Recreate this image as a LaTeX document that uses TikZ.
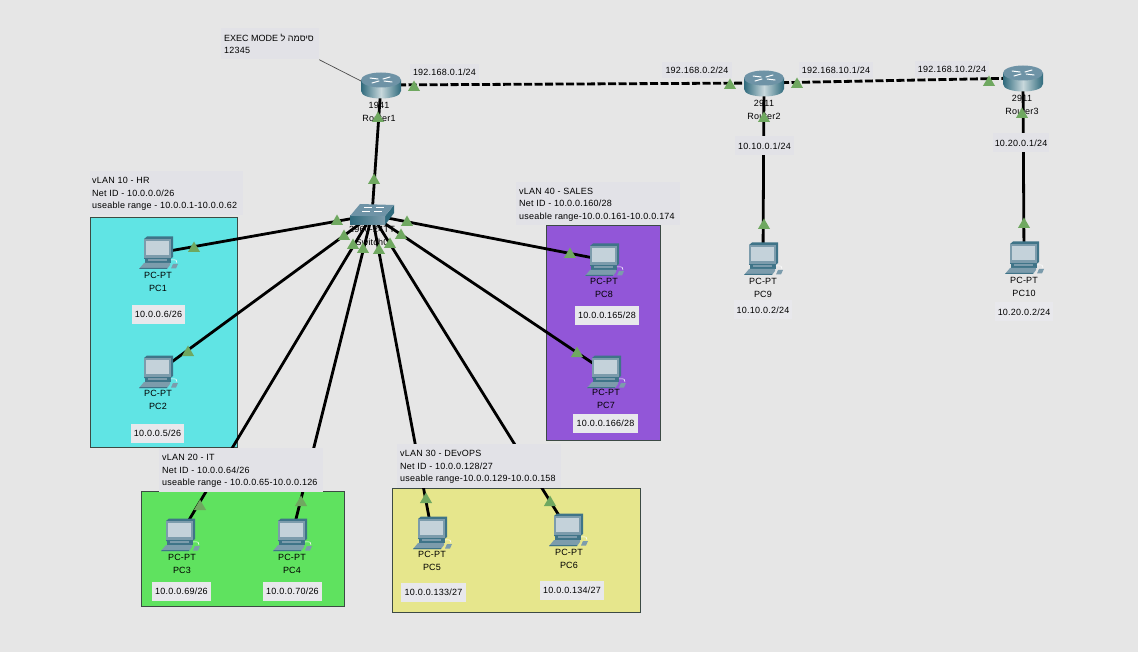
\documentclass[tikz,border=0pt]{standalone}
\usepackage{fontspec}
\usetikzlibrary{shapes.geometric}
\setmainfont[LetterSpace=2.5]{Liberation Sans}
\newfontfamily\hebfont[Script=Hebrew]{Liberation Sans}
\TeXXeTstate=1
\definecolor{bgc}{HTML}{E6E6E6}
\definecolor{lblc}{HTML}{E2E2E7}
\definecolor{ipc}{HTML}{E8E8EC}
\definecolor{bluev}{HTML}{60E4E4}
\definecolor{greenv}{HTML}{5FE25F}
\definecolor{yellowv}{HTML}{E6E68C}
\definecolor{purplev}{HTML}{9256D8}
\definecolor{trig}{HTML}{6FA860}
\definecolor{edgec}{HTML}{3C4A44}
\definecolor{pcdark}{HTML}{3F7488}
\definecolor{pcmid}{HTML}{7C9CAC}
\definecolor{pcscr}{HTML}{C4D2DA}
\definecolor{rtop}{HTML}{6E93A6}
\definecolor{rdark}{HTML}{2F6A7C}
\definecolor{rlight}{HTML}{C8D8DC}
\tikzset{
  x=1pt,y=-1pt,
  every node/.style={font=\fontsize{9}{12.4}\selectfont,text=black},
  vbox/.style={draw=edgec,line width=0.9pt},
  devspot/.style={inner sep=0pt,outer sep=0pt,minimum width=#1,minimum height=18pt},
  devspot/.default=26pt,
  lnk/.style={line width=2.8pt,black},
  serial/.style={line width=2.8pt,black,dash pattern=on 8pt off 2.5pt},
  vlab/.style={fill=lblc,align=left,inner sep=0pt,anchor=west,text depth=0pt},
  ipbox/.style={fill=ipc,inner sep=0pt,minimum height=19pt,minimum width=#1},
  linklab/.style={fill=lblc,inner sep=0pt,minimum height=16pt,minimum width=#1},
  devtext/.style={align=center,inner sep=0pt},
  mark tri/.style={regular polygon,regular polygon sides=3,fill=trig,inner sep=0pt,outer sep=0pt,minimum size=14pt,yshift=-1.5pt},
  pcicon/.pic={
    \fill[pcdark] (-14,-14) -- (-11,-16.5) -- (15,-16.5) -- (15,4) -- (12.5,6) -- (-14,6) -- cycle;
    \fill[pcmid] (-14,-14) -- (12.5,-14) -- (12.5,5) -- (-14,5) -- cycle;
    \fill[pcscr] (-12,-12) -- (10.5,-12) -- (10.5,2) -- (-12,2) -- cycle;
    \fill[pcdark] (-13,5) -- (13,5) -- (13,10) -- (-13,10) -- cycle;
    \fill[pcmid] (-10,6) -- (9,6) -- (9,8) -- (-10,8) -- cycle;
    \fill[pcmid] (-14,10) -- (12,10) -- (12,12) -- (9,16) -- (-19,16) -- cycle;
    \fill[pcdark] (-18,15) -- (9,15) -- (9,16) -- (-19,16) -- cycle;
    \fill[pcmid] (15,11) -- (20,11) -- (18,15.5) -- (13,15.5) -- cycle;
    \draw[white,line width=0.5pt] (13,7) .. controls (18,6) and (20,8) .. (19,10);
  },
  routericon/.pic={
    \shade[left color=rdark,right color=rdark,middle color=rlight]
      (-20,-5) -- (-20,6) .. controls (-20,16) and (20,16) .. (20,6) -- (20,-5) -- cycle;
    \fill[rtop] (0,-5) ellipse[x radius=20,y radius=7.5];
    \draw[white,line width=1pt,line cap=round] (-11,-7) -- (-3,-6) (11,-3) -- (3,-4) (-9,-2) -- (-2,-4) (9,-8) -- (2,-6);
  },
  switchicon/.pic={
    \fill[rdark] (13,1) -- (22,-10) -- (22,-2) -- (13,10) -- cycle;
    \shade[left color=rdark,right color=pcmid] (-22,1) -- (13,1) -- (13,10) -- (-22,10) -- cycle;
    \fill[rtop] (-22,1) -- (13,1) -- (22,-10) -- (-12,-11) -- cycle;
    \draw[white,line width=0.7pt] (-10,-4) -- (-2,-4) (2,-4) -- (10,-4) (-8,-8) -- (0,-8) (4,-8) -- (12,-8);
  }
}
\begin{document}
\begin{tikzpicture}
\useasboundingbox (0,0) rectangle (1138,652);
\fill[bgc] (0,0) rectangle (1138,652);
% VLAN areas
\draw[vbox,fill=bluev]   (90,217) rectangle (237,447);
\draw[vbox,fill=greenv]  (141,491) rectangle (344,606);
\draw[vbox,fill=yellowv] (392,488) rectangle (640,612);
\draw[vbox,fill=purplev] (546,225) rectangle (660,440);
% device anchors
\node[devspot=34pt] (r1) at (381,85) {};
\node[devspot=34pt] (r2) at (764,83) {};
\node[devspot=34pt] (r3) at (1023,78) {};
\node[devspot=30pt] (sw) at (372,215) {};
\node[devspot] (pc1) at (158,253) {};
\node[devspot] (pc2) at (158,372) {};
\node[devspot] (pc3) at (180,535) {};
\node[devspot] (pc4) at (292,535) {};
\node[devspot] (pc5) at (432,533) {};
\node[devspot] (pc6) at (568,530) {};
\node[devspot] (pc7) at (606,372) {};
\node[devspot] (pc8) at (604,260) {};
\node[devspot] (pc9) at (763,259) {};
\node[devspot] (pc10) at (1024,258) {};
% links
\draw[serial] (r1) -- (r2);
\draw[serial] (r2) -- (r3);
\draw[lnk] (r1) -- (sw);
\draw[lnk] (r2) -- (pc9);
\draw[lnk] (r3) -- (pc10);
\foreach \p in {pc1,pc2,pc3,pc4,pc5,pc6,pc7,pc8} \draw[lnk] (sw) -- (\p);
% note
\node[fill=lblc,minimum width=98pt,minimum height=31pt,inner sep=0pt] (notebg) at (270,44) {};
\node[vlab,fill=none] (note) at (224,44) {{\hebfont\beginR סיסמה ל \beginL EXEC MODE\endL\endR}\\12345};
\draw[line width=0.7pt,black!70] (notebg.south east) -- ([xshift=-3pt,yshift=4pt]r1.west);
% VLAN labels
\node[fill=lblc,minimum width=153pt,minimum height=44pt,inner sep=0pt] (v10bg) at (166.5,193) {};
\node[vlab,fill=none] (v10) at (92,193) {vLAN 10 - HR\\Net ID - 10.0.0.0/26\\useable range - 10.0.0.1-10.0.0.62};
\node[fill=lblc,minimum width=164pt,minimum height=44pt,inner sep=0pt] (v20bg) at (241,470) {};
\node[vlab,fill=none] (v20) at (162,470) {vLAN 20 - IT\\Net ID - 10.0.0.64/26\\useable range - 10.0.0.65-10.0.0.126};
\node[fill=lblc,minimum width=164pt,minimum height=44pt,inner sep=0pt] (v30bg) at (479,466) {};
\node[vlab,fill=none] (v30) at (400,466) {vLAN 30 - DEvOPS\\Net ID - 10.0.0.128/27\\useable range-10.0.0.129-10.0.0.158};
\node[fill=lblc,minimum width=164pt,minimum height=43pt,inner sep=0pt] (v40bg) at (598,203.5) {};
\node[vlab,fill=none] (v40) at (519,203.5) {vLAN 40 - SALES\\Net ID - 10.0.0.160/28\\useable range-10.0.0.161-10.0.0.174};
% link labels
\node[linklab=69pt] (l1) at (444.5,72) {192.168.0.1/24};
\node[linklab=70pt] (l2) at (697,70) {192.168.0.2/24};
\node[linklab=74pt] (l3) at (836,70) {192.168.10.1/24};
\node[linklab=74pt] (l4) at (952,69) {192.168.10.2/24};
\node[linklab=59pt,minimum height=19pt] (l5) at (764.5,146) {10.10.0.1/24};
\node[linklab=56pt,minimum height=19pt] (l6) at (1021,143) {10.20.0.1/24};
% icons
\path (r1) pic {routericon};
\path (r2) pic {routericon};
\path (r3) pic {routericon};
\path (sw) pic {switchicon};
\foreach \p in {pc1,pc2,pc3,pc4,pc5,pc6,pc7,pc8,pc9,pc10} \path (\p) pic {pcicon};
% device names
\node[devtext] (tr1) at (379,112) {1941\\Router1};
\node[devtext] (tr2) at (764,110) {2911\\Router2};
\node[devtext] (tr3) at (1022,105) {2911\\Router3};
\node[devtext] (tsw) at (372,236) {2960-24TT\\Switch0};
\node[devtext] (tp1) at (158,282) {PC-PT\\PC1};
\node[devtext] (tp2) at (158,400) {PC-PT\\PC2};
\node[devtext] (tp3) at (182,564) {PC-PT\\PC3};
\node[devtext] (tp4) at (292,564) {PC-PT\\PC4};
\node[devtext] (tp5) at (432,561) {PC-PT\\PC5};
\node[devtext] (tp6) at (569,559) {PC-PT\\PC6};
\node[devtext] (tp7) at (606,399) {PC-PT\\PC7};
\node[devtext] (tp8) at (604,288) {PC-PT\\PC8};
\node[devtext] (tp9) at (763,288) {PC-PT\\PC9};
\node[devtext] (tp10) at (1024,287) {PC-PT\\PC10};
% address labels
\node[ipbox=53pt] (a1) at (158.5,314.5) {10.0.0.6/26};
\node[ipbox=53pt] (a2) at (157.5,433) {10.0.0.5/26};
\node[ipbox=59pt] (a3) at (181.5,591.5) {10.0.0.69/26};
\node[ipbox=59pt] (a4) at (292.5,591.5) {10.0.0.70/26};
\node[ipbox=65pt] (a5) at (433.5,592.5) {10.0.0.133/27};
\node[ipbox=64pt] (a6) at (572,590.5) {10.0.0.134/27};
\node[ipbox=65pt] (a7) at (605.5,423) {10.0.0.166/28};
\node[ipbox=64pt] (a8) at (607,315.5) {10.0.0.165/28};
\node[ipbox=58pt] (a9) at (763,310) {10.10.0.2/24};
\node[ipbox=58pt] (a10) at (1024,312) {10.20.0.2/24};
% port markers
\foreach \n/\x/\y in {a/414/86,b/730/84,c/797/83,d/989/81,e/378/117,f/764/117,g/1022/113,h/374/179,
  i/337/220,j/344/235,k/353/244,l/363/248,m/379/249,n/390/243,o/401/234,p/407/221,
  q/194/247,r/188/351,s/200/505,t/301/501,u/426/498,v/550/501,w/570/253,x/577/352,y/764/224,z/1024/223}
  \node[mark tri] (port\n) at (\x,\y) {};
\end{tikzpicture}
\end{document}
